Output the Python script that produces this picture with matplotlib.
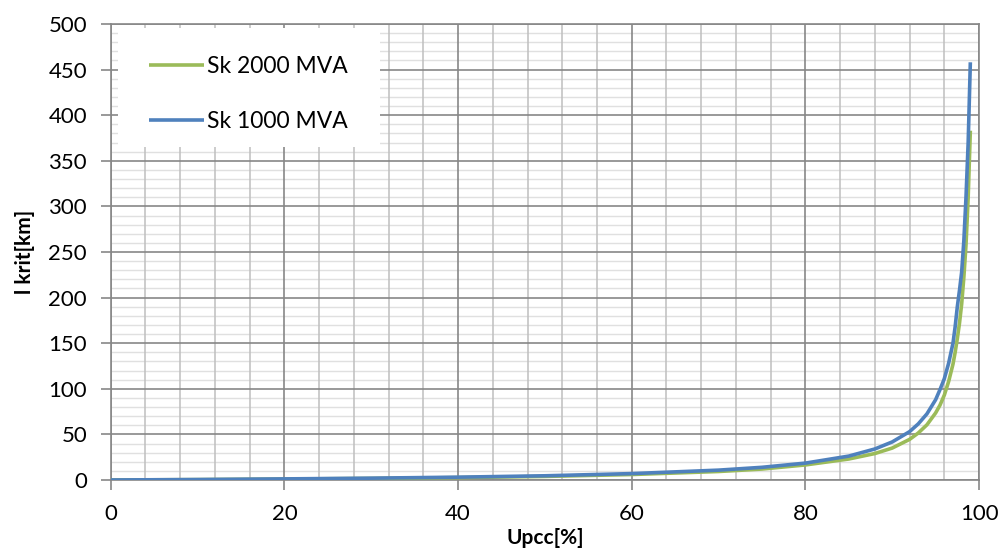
import matplotlib
matplotlib.use('Agg')
import matplotlib.pyplot as plt
from matplotlib.patches import Rectangle
from matplotlib.ticker import MultipleLocator

plt.rcParams['font.family'] = ['Lato', 'DejaVu Sans']

upcc = [0, 10, 20, 30, 40, 50, 60, 70, 75, 80, 85, 88, 90, 92, 93, 94, 95, 95.5, 96, 96.5,
        97, 97.25, 97.5, 97.75, 98, 98.25, 98.5, 98.75, 99]
sk2000 = [0, 0.4, 1.0, 1.7, 2.6, 3.9, 6.0, 9.3, 12, 16.5, 23, 29, 35, 44.5, 51.5, 60.5, 73.5, 82, 93, 108,
          127, 140, 155, 172, 193, 222, 258, 310, 383]
sk1000 = [0, 0.5, 1.2, 2.0, 3.1, 4.6, 7.0, 10.8, 13.9, 18.5, 26.2, 34, 41.7, 53, 61.5, 72.5, 88, 99, 111, 128,
          150, 168, 190, 208, 228, 262, 310, 370, 458]

green = '#9BBB59'
blue = '#4F81BD'

fig = plt.figure(figsize=(10.03, 5.54), dpi=100)
ax = fig.add_axes([0.1104, 0.1336, 0.8657, 0.8231])
ax.set_axisbelow(True)

ax.plot(upcc, sk2000, color=green, lw=2.6, label='Sk 2000 MVA', zorder=3, solid_capstyle='butt')
ax.plot(upcc, sk1000, color=blue, lw=2.6, label='Sk 1000 MVA', zorder=3, solid_capstyle='butt')

ax.set_xlim(0, 100)
ax.set_ylim(0, 500)
ax.xaxis.set_major_locator(MultipleLocator(20))
ax.xaxis.set_minor_locator(MultipleLocator(4))
ax.yaxis.set_major_locator(MultipleLocator(50))
ax.yaxis.set_minor_locator(MultipleLocator(10))

# minor grid drawn by hand so that major lines stay on top
ax.hlines(ax.yaxis.get_minorticklocs(), 0, 100, color='#E0E0E0', lw=1.0, zorder=0.1)
ax.vlines(ax.xaxis.get_minorticklocs(), 0, 500, color='#BFBFBF', lw=1.1, zorder=0.2)
ax.grid(which='major', color='#878787', lw=1.2)

for s in ax.spines.values():
    s.set_color('#878787')
    s.set_linewidth(1.2)

ax.tick_params(which='major', direction='out', length=7, width=1.2, color='#878787',
               labelsize=16, labelcolor='black', pad=10)
ax.tick_params(which='minor', length=0)

ax.set_xlabel('Upcc[%]', fontsize=15, fontweight='bold', labelpad=3)
ax.set_ylabel('l krit[km]', fontsize=15, fontweight='bold', labelpad=10)

# white legend background covering the grid
ax.add_patch(Rectangle((0.008, 0.73), 0.302, 0.262, transform=ax.transAxes,
                       facecolor='white', edgecolor='none', zorder=2))
ax.legend(loc='upper left', bbox_to_anchor=(0.02, 0.975), frameon=False,
          fontsize=16.5, handlelength=2.4, handletextpad=0.15, labelspacing=1.5)

fig.savefig('out.png', dpi=100)
